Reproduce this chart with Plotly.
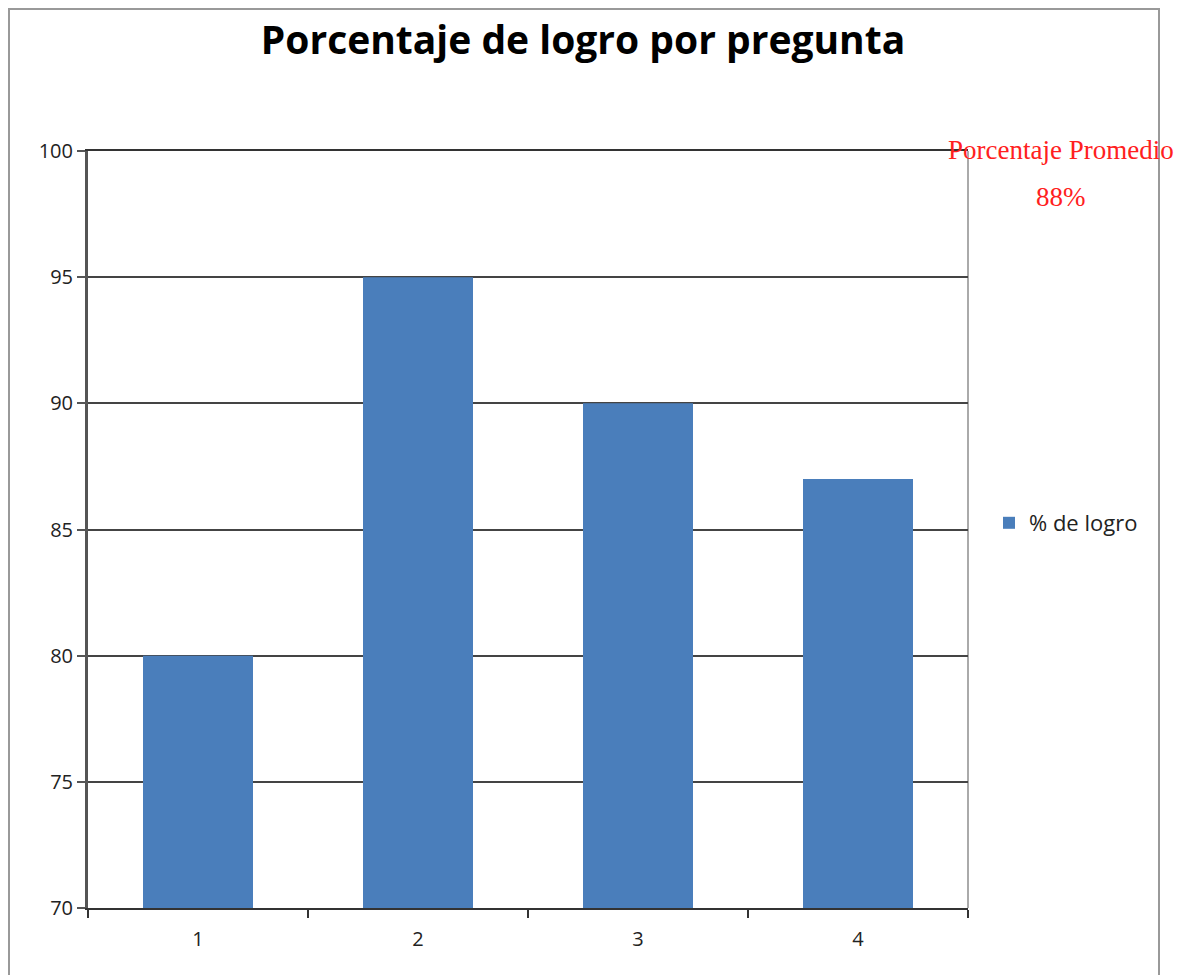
import plotly.graph_objects as go

categories = ["1", "2", "3", "4"]
values = [80, 95, 90, 87]
series_name = "% de logro"
title_text = "Porcentaje de logro por pregunta"
note_label = "Porcentaje Promedio"
note_value = "88%"
y_ticks = [70, 75, 80, 85, 90, 95, 100]

fig = go.Figure()
fig.add_trace(go.Bar(
    x=categories, y=values, name=series_name,
    marker=dict(color="#4a7ebb", line=dict(width=0)),
    width=0.5, showlegend=True,
))

OFF = 8  # browser default body margin
L, R, T, B = 88 - OFF, 223, 151 - OFF, 67
W, H = 1191 - OFF, 975 - OFF
pw, ph = W - L - R, H - T - B

def px_x(px):
    return (px - OFF - L) / pw

def px_y(py):
    return (H - B - (py - OFF)) / ph

fig.update_layout(
    width=W, height=H,
    margin=dict(l=L, r=R, t=T, b=B),
    paper_bgcolor="white", plot_bgcolor="white",
    title=dict(text="<b>" + title_text + "</b>", font=dict(family="Open Sans", size=39, color="black"),
               xref="paper", x=px_x(583), xanchor="center",
               yref="container", y=1 - (40 - OFF) / H, yanchor="middle"),
    legend=dict(x=px_x(989), y=px_y(523), xanchor="left", yanchor="middle",
                font=dict(family="Open Sans", size=22, color="#222"),
                bgcolor="rgba(0,0,0,0)", itemwidth=30),
    xaxis=dict(type="category", tickson="boundaries", ticks="outside", ticklen=8,
               tickwidth=2, tickcolor="#333", showgrid=False, showline=True,
               linecolor="#333", linewidth=2, mirror=True, ticklabelstandoff=12,
               tickfont=dict(family="Open Sans", size=20, color="#222")),
    yaxis=dict(range=[70, 100], tickvals=y_ticks, ticks="outside", ticklen=8,
               tickwidth=2, tickcolor="#555", showgrid=True, gridcolor="#444", gridwidth=2,
               showline=True, linecolor="#555", linewidth=3, zeroline=False,
               tickfont=dict(family="Open Sans", size=20, color="#222")),
    bargap=0.5,
)

fig.add_shape(type="line", xref="paper", yref="paper", x0=1, x1=1, y0=0, y1=1,
              line=dict(color="#aaaaaa", width=2), layer="below")
fig.add_shape(type="rect", xref="paper", yref="paper",
              x0=px_x(9), x1=px_x(1159), y0=px_y(9), y1=px_y(990),
              line=dict(color="#999999", width=2), layer="above")

fig.add_annotation(text=note_label, xref="paper", yref="paper", x=px_x(1061), y=px_y(150),
                   showarrow=False, xanchor="center", yanchor="middle",
                   font=dict(family="Liberation Serif", size=27, color="#ff2020"))
fig.add_annotation(text=note_value, xref="paper", yref="paper", x=px_x(1061), y=px_y(197),
                   showarrow=False, xanchor="center", yanchor="middle",
                   font=dict(family="Liberation Serif", size=27, color="#ff2020"))

fig.write_html("out.html")
